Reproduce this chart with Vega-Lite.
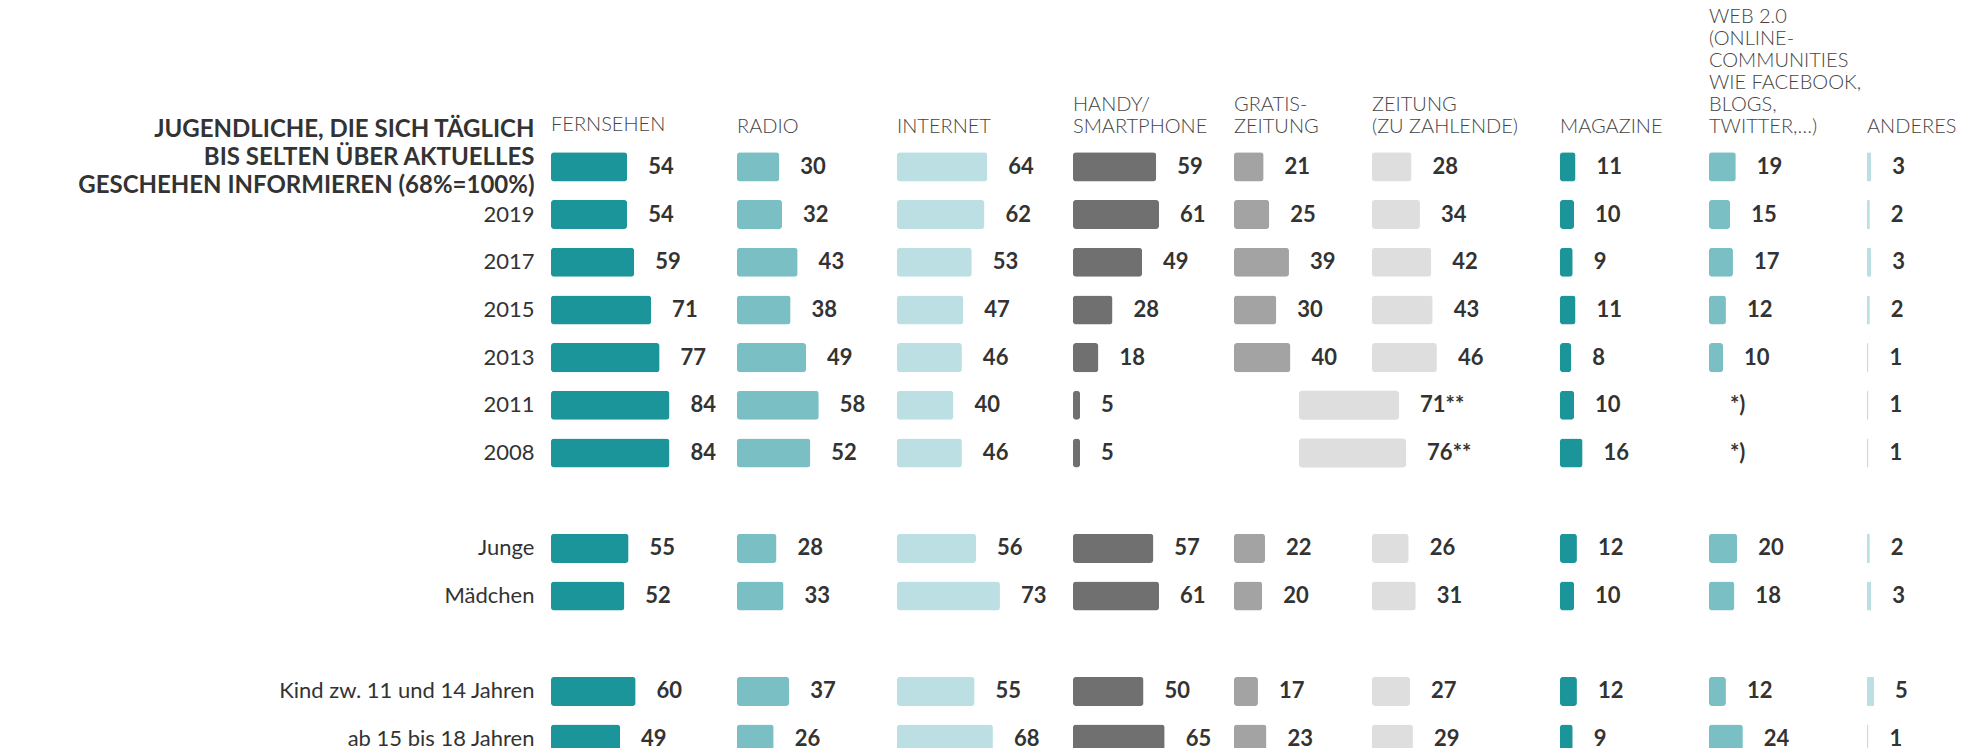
{
  "$schema": "https://vega.github.io/schema/vega-lite/v6.json",
  "autosize": {"type": "pad"},
  "padding": {"left": 77, "top": 7, "right": 0, "bottom": 0},
  "background": "white",
  "bounds": "flush",
  "spacing": 0,
  "config": {
    "view": {"stroke": null},
    "font": "Lato",
    "title": {"anchor": "start", "frame": "group", "font": "Lato", "fontWeight": 300, "fontSize": 20, "color": "#444444", "baseline": "alphabetic", "offset": 6, "lineHeight": 22}
  },
  "datasets": {
    "main": [
      {"row": "gesamt", "medium": "Fernsehen", "value": 54, "label": "54"},
      {"row": "gesamt", "medium": "Radio", "value": 30, "label": "30"},
      {"row": "gesamt", "medium": "Internet", "value": 64, "label": "64"},
      {"row": "gesamt", "medium": "Handy", "value": 59, "label": "59"},
      {"row": "gesamt", "medium": "Gratis", "value": 21, "label": "21"},
      {"row": "gesamt", "medium": "Zeitung", "value": 28, "label": "28"},
      {"row": "gesamt", "medium": "Magazine", "value": 11, "label": "11"},
      {"row": "gesamt", "medium": "Web", "value": 19, "label": "19"},
      {"row": "gesamt", "medium": "Anderes", "value": 3, "label": "3"},
      {"row": "2019", "medium": "Fernsehen", "value": 54, "label": "54"},
      {"row": "2019", "medium": "Radio", "value": 32, "label": "32"},
      {"row": "2019", "medium": "Internet", "value": 62, "label": "62"},
      {"row": "2019", "medium": "Handy", "value": 61, "label": "61"},
      {"row": "2019", "medium": "Gratis", "value": 25, "label": "25"},
      {"row": "2019", "medium": "Zeitung", "value": 34, "label": "34"},
      {"row": "2019", "medium": "Magazine", "value": 10, "label": "10"},
      {"row": "2019", "medium": "Web", "value": 15, "label": "15"},
      {"row": "2019", "medium": "Anderes", "value": 2, "label": "2"},
      {"row": "2017", "medium": "Fernsehen", "value": 59, "label": "59"},
      {"row": "2017", "medium": "Radio", "value": 43, "label": "43"},
      {"row": "2017", "medium": "Internet", "value": 53, "label": "53"},
      {"row": "2017", "medium": "Handy", "value": 49, "label": "49"},
      {"row": "2017", "medium": "Gratis", "value": 39, "label": "39"},
      {"row": "2017", "medium": "Zeitung", "value": 42, "label": "42"},
      {"row": "2017", "medium": "Magazine", "value": 9, "label": "9"},
      {"row": "2017", "medium": "Web", "value": 17, "label": "17"},
      {"row": "2017", "medium": "Anderes", "value": 3, "label": "3"},
      {"row": "2015", "medium": "Fernsehen", "value": 71, "label": "71"},
      {"row": "2015", "medium": "Radio", "value": 38, "label": "38"},
      {"row": "2015", "medium": "Internet", "value": 47, "label": "47"},
      {"row": "2015", "medium": "Handy", "value": 28, "label": "28"},
      {"row": "2015", "medium": "Gratis", "value": 30, "label": "30"},
      {"row": "2015", "medium": "Zeitung", "value": 43, "label": "43"},
      {"row": "2015", "medium": "Magazine", "value": 11, "label": "11"},
      {"row": "2015", "medium": "Web", "value": 12, "label": "12"},
      {"row": "2015", "medium": "Anderes", "value": 2, "label": "2"},
      {"row": "2013", "medium": "Fernsehen", "value": 77, "label": "77"},
      {"row": "2013", "medium": "Radio", "value": 49, "label": "49"},
      {"row": "2013", "medium": "Internet", "value": 46, "label": "46"},
      {"row": "2013", "medium": "Handy", "value": 18, "label": "18"},
      {"row": "2013", "medium": "Gratis", "value": 40, "label": "40"},
      {"row": "2013", "medium": "Zeitung", "value": 46, "label": "46"},
      {"row": "2013", "medium": "Magazine", "value": 8, "label": "8"},
      {"row": "2013", "medium": "Web", "value": 10, "label": "10"},
      {"row": "2013", "medium": "Anderes", "value": 1, "label": "1"},
      {"row": "2011", "medium": "Fernsehen", "value": 84, "label": "84"},
      {"row": "2011", "medium": "Radio", "value": 58, "label": "58"},
      {"row": "2011", "medium": "Internet", "value": 40, "label": "40"},
      {"row": "2011", "medium": "Handy", "value": 5, "label": "5"},
      {"row": "2011", "medium": "Zeitung gesamt", "value": 71, "label": "71**"},
      {"row": "2011", "medium": "Magazine", "value": 10, "label": "10"},
      {"row": "2011", "medium": "Web", "value": null, "label": "*)"},
      {"row": "2011", "medium": "Anderes", "value": 1, "label": "1"},
      {"row": "2008", "medium": "Fernsehen", "value": 84, "label": "84"},
      {"row": "2008", "medium": "Radio", "value": 52, "label": "52"},
      {"row": "2008", "medium": "Internet", "value": 46, "label": "46"},
      {"row": "2008", "medium": "Handy", "value": 5, "label": "5"},
      {"row": "2008", "medium": "Zeitung gesamt", "value": 76, "label": "76**"},
      {"row": "2008", "medium": "Magazine", "value": 16, "label": "16"},
      {"row": "2008", "medium": "Web", "value": null, "label": "*)"},
      {"row": "2008", "medium": "Anderes", "value": 1, "label": "1"},
      {"row": "Junge", "medium": "Fernsehen", "value": 55, "label": "55"},
      {"row": "Junge", "medium": "Radio", "value": 28, "label": "28"},
      {"row": "Junge", "medium": "Internet", "value": 56, "label": "56"},
      {"row": "Junge", "medium": "Handy", "value": 57, "label": "57"},
      {"row": "Junge", "medium": "Gratis", "value": 22, "label": "22"},
      {"row": "Junge", "medium": "Zeitung", "value": 26, "label": "26"},
      {"row": "Junge", "medium": "Magazine", "value": 12, "label": "12"},
      {"row": "Junge", "medium": "Web", "value": 20, "label": "20"},
      {"row": "Junge", "medium": "Anderes", "value": 2, "label": "2"},
      {"row": "Mädchen", "medium": "Fernsehen", "value": 52, "label": "52"},
      {"row": "Mädchen", "medium": "Radio", "value": 33, "label": "33"},
      {"row": "Mädchen", "medium": "Internet", "value": 73, "label": "73"},
      {"row": "Mädchen", "medium": "Handy", "value": 61, "label": "61"},
      {"row": "Mädchen", "medium": "Gratis", "value": 20, "label": "20"},
      {"row": "Mädchen", "medium": "Zeitung", "value": 31, "label": "31"},
      {"row": "Mädchen", "medium": "Magazine", "value": 10, "label": "10"},
      {"row": "Mädchen", "medium": "Web", "value": 18, "label": "18"},
      {"row": "Mädchen", "medium": "Anderes", "value": 3, "label": "3"},
      {"row": "Kind zw. 11 und 14 Jahren", "medium": "Fernsehen", "value": 60, "label": "60"},
      {"row": "Kind zw. 11 und 14 Jahren", "medium": "Radio", "value": 37, "label": "37"},
      {"row": "Kind zw. 11 und 14 Jahren", "medium": "Internet", "value": 55, "label": "55"},
      {"row": "Kind zw. 11 und 14 Jahren", "medium": "Handy", "value": 50, "label": "50"},
      {"row": "Kind zw. 11 und 14 Jahren", "medium": "Gratis", "value": 17, "label": "17"},
      {"row": "Kind zw. 11 und 14 Jahren", "medium": "Zeitung", "value": 27, "label": "27"},
      {"row": "Kind zw. 11 und 14 Jahren", "medium": "Magazine", "value": 12, "label": "12"},
      {"row": "Kind zw. 11 und 14 Jahren", "medium": "Web", "value": 12, "label": "12"},
      {"row": "Kind zw. 11 und 14 Jahren", "medium": "Anderes", "value": 5, "label": "5"},
      {"row": "ab 15 bis 18 Jahren", "medium": "Fernsehen", "value": 49, "label": "49"},
      {"row": "ab 15 bis 18 Jahren", "medium": "Radio", "value": 26, "label": "26"},
      {"row": "ab 15 bis 18 Jahren", "medium": "Internet", "value": 68, "label": "68"},
      {"row": "ab 15 bis 18 Jahren", "medium": "Handy", "value": 65, "label": "65"},
      {"row": "ab 15 bis 18 Jahren", "medium": "Gratis", "value": 23, "label": "23"},
      {"row": "ab 15 bis 18 Jahren", "medium": "Zeitung", "value": 29, "label": "29"},
      {"row": "ab 15 bis 18 Jahren", "medium": "Magazine", "value": 9, "label": "9"},
      {"row": "ab 15 bis 18 Jahren", "medium": "Web", "value": 24, "label": "24"},
      {"row": "ab 15 bis 18 Jahren", "medium": "Anderes", "value": 1, "label": "1"}
    ]
  },
  "data": {"name": "main"},
  "hconcat": [
    {
      "width": 186, "height": 608,
      "title": {"text": "FERNSEHEN", "offset": -18},
      "transform": [{"filter": "datum.medium == 'Fernsehen'"}],
      "encoding": {"y": {"field": "row", "type": "nominal",
        "scale": {"domain": ["gesamt", "2019", "2017", "2015", "2013", "2011", "2008", "gap1", "Junge", "Mädchen", "gap2", "Kind zw. 11 und 14 Jahren", "ab 15 bis 18 Jahren"], "range": [0, 620], "paddingInner": 0.39, "paddingOuter": 0.195},
        "axis": {"title": null, "domain": false, "ticks": false, "labelPadding": 17, "labelLimit": 700, "labelFont": "Lato", "labelColor": "#333333", "labelLineHeight": 28,
          "labelFontSize": {"condition": {"test": "datum.value == 'gesamt'", "value": 24}, "value": 22},
          "labelFontWeight": {"condition": {"test": "datum.value == 'gesamt'", "value": "bold"}, "value": 400},
          "labelOffset": {"condition": {"test": "datum.value == 'gesamt'", "value": -37}, "value": 0},
          "labelExpr": "datum.value == 'gesamt' ? ['JUGENDLICHE, DIE SICH TÄGLICH', 'BIS SELTEN ÜBER AKTUELLES', 'GESCHEHEN INFORMIEREN (68%=100%)'] : (indexof(datum.value, 'gap') == 0 ? '' : datum.value)"}}},
      "layer": [
        {"mark": {"type": "bar", "color": "#1b959a", "cornerRadius": 3}, "encoding": {"x": {"field": "value", "type": "quantitative", "scale": {"domain": [0, 131.9]}, "axis": null}}},
        {"mark": {"type": "text", "align": "left", "baseline": "middle", "dx": 21, "font": "Lato", "fontWeight": "bold", "fontSize": 22, "color": "#333333"}, "encoding": {"x": {"field": "value", "type": "quantitative", "scale": {"domain": [0, 131.9]}, "axis": null}, "text": {"field": "label"}}}
      ]
    },
    {
      "width": 160, "height": 608,
      "title": "RADIO",
      "transform": [{"filter": "datum.medium == 'Radio'"}],
      "encoding": {"y": {"field": "row", "type": "nominal",
        "scale": {"domain": ["gesamt", "2019", "2017", "2015", "2013", "2011", "2008", "gap1", "Junge", "Mädchen", "gap2", "Kind zw. 11 und 14 Jahren", "ab 15 bis 18 Jahren"], "range": [0, 620], "paddingInner": 0.39, "paddingOuter": 0.195}, "axis": null}},
      "layer": [
        {"mark": {"type": "bar", "color": "#79bfc4", "cornerRadius": 3}, "encoding": {"x": {"field": "value", "type": "quantitative", "scale": {"domain": [0, 113.5]}, "axis": null}}},
        {"mark": {"type": "text", "align": "left", "baseline": "middle", "dx": 21, "font": "Lato", "fontWeight": "bold", "fontSize": 22, "color": "#333333"}, "encoding": {"x": {"field": "value", "type": "quantitative", "scale": {"domain": [0, 113.5]}, "axis": null}, "text": {"field": "label"}}}
      ]
    },
    {
      "width": 176, "height": 608,
      "title": "INTERNET",
      "transform": [{"filter": "datum.medium == 'Internet'"}],
      "encoding": {"y": {"field": "row", "type": "nominal",
        "scale": {"domain": ["gesamt", "2019", "2017", "2015", "2013", "2011", "2008", "gap1", "Junge", "Mädchen", "gap2", "Kind zw. 11 und 14 Jahren", "ab 15 bis 18 Jahren"], "range": [0, 620], "paddingInner": 0.39, "paddingOuter": 0.195}, "axis": null}},
      "layer": [
        {"mark": {"type": "bar", "color": "#bbdfe2", "cornerRadius": 3}, "encoding": {"x": {"field": "value", "type": "quantitative", "scale": {"domain": [0, 124.8]}, "axis": null}}},
        {"mark": {"type": "text", "align": "left", "baseline": "middle", "dx": 21, "font": "Lato", "fontWeight": "bold", "fontSize": 22, "color": "#333333"}, "encoding": {"x": {"field": "value", "type": "quantitative", "scale": {"domain": [0, 124.8]}, "axis": null}, "text": {"field": "label"}}}
      ]
    },
    {
      "width": 161, "height": 608,
      "title": {"text": ["HANDY/", "SMARTPHONE"]},
      "transform": [{"filter": "datum.medium == 'Handy'"}],
      "encoding": {"y": {"field": "row", "type": "nominal",
        "scale": {"domain": ["gesamt", "2019", "2017", "2015", "2013", "2011", "2008", "gap1", "Junge", "Mädchen", "gap2", "Kind zw. 11 und 14 Jahren", "ab 15 bis 18 Jahren"], "range": [0, 620], "paddingInner": 0.39, "paddingOuter": 0.195}, "axis": null}},
      "layer": [
        {"mark": {"type": "bar", "color": "#707070", "cornerRadius": 3}, "encoding": {"x": {"field": "value", "type": "quantitative", "scale": {"domain": [0, 114.2]}, "axis": null}}},
        {"mark": {"type": "text", "align": "left", "baseline": "middle", "dx": 21, "font": "Lato", "fontWeight": "bold", "fontSize": 22, "color": "#333333"}, "encoding": {"x": {"field": "value", "type": "quantitative", "scale": {"domain": [0, 114.2]}, "axis": null}, "text": {"field": "label"}}}
      ]
    },
    {
      "width": 138, "height": 608,
      "title": {"text": ["GRATIS-", "ZEITUNG"]},
      "transform": [{"filter": "datum.medium == 'Gratis' || datum.medium == 'Zeitung gesamt'"}],
      "encoding": {"y": {"field": "row", "type": "nominal",
        "scale": {"domain": ["gesamt", "2019", "2017", "2015", "2013", "2011", "2008", "gap1", "Junge", "Mädchen", "gap2", "Kind zw. 11 und 14 Jahren", "ab 15 bis 18 Jahren"], "range": [0, 620], "paddingInner": 0.39, "paddingOuter": 0.195}, "axis": null}},
      "layer": [
        {"transform": [{"filter": "datum.medium == 'Gratis'"}], "mark": {"type": "bar", "color": "#a3a3a3", "cornerRadius": 3}, "encoding": {"x": {"field": "value", "type": "quantitative", "scale": {"domain": [0, 97.9]}, "axis": null}}},
        {"transform": [{"filter": "datum.medium == 'Gratis'"}], "mark": {"type": "text", "align": "left", "baseline": "middle", "dx": 21, "font": "Lato", "fontWeight": "bold", "fontSize": 22, "color": "#333333"}, "encoding": {"x": {"field": "value", "type": "quantitative", "scale": {"domain": [0, 97.9]}, "axis": null}, "text": {"field": "label"}}},
        {"transform": [{"filter": "datum.medium == 'Zeitung gesamt'"}], "mark": {"type": "bar", "color": "#dedede", "cornerRadius": 3}, "encoding": {"x": {"field": "value", "type": "quantitative", "scale": {"domain": [-46.1, 51.8], "zero": false}, "axis": null}, "x2": {"datum": 0}}},
        {"transform": [{"filter": "datum.medium == 'Zeitung gesamt'"}], "mark": {"type": "text", "align": "left", "baseline": "middle", "dx": 21, "font": "Lato", "fontWeight": "bold", "fontSize": 22, "color": "#333333"}, "encoding": {"x": {"field": "value", "type": "quantitative", "scale": {"domain": [-46.1, 51.8], "zero": false}, "axis": null}, "text": {"field": "label"}}}
      ],
      "resolve": {"scale": {"x": "independent"}}
    },
    {
      "width": 188, "height": 608,
      "title": {"text": ["ZEITUNG", "(ZU ZAHLENDE)"]},
      "transform": [{"filter": "datum.medium == 'Zeitung'"}],
      "encoding": {"y": {"field": "row", "type": "nominal",
        "scale": {"domain": ["gesamt", "2019", "2017", "2015", "2013", "2011", "2008", "gap1", "Junge", "Mädchen", "gap2", "Kind zw. 11 und 14 Jahren", "ab 15 bis 18 Jahren"], "range": [0, 620], "paddingInner": 0.39, "paddingOuter": 0.195}, "axis": null}},
      "layer": [
        {"mark": {"type": "bar", "color": "#dedede", "cornerRadius": 3}, "encoding": {"x": {"field": "value", "type": "quantitative", "scale": {"domain": [0, 133.3]}, "axis": null}}},
        {"mark": {"type": "text", "align": "left", "baseline": "middle", "dx": 21, "font": "Lato", "fontWeight": "bold", "fontSize": 22, "color": "#333333"}, "encoding": {"x": {"field": "value", "type": "quantitative", "scale": {"domain": [0, 133.3]}, "axis": null}, "text": {"field": "label"}}}
      ]
    },
    {
      "width": 149, "height": 608,
      "title": "MAGAZINE",
      "transform": [{"filter": "datum.medium == 'Magazine'"}],
      "encoding": {"y": {"field": "row", "type": "nominal",
        "scale": {"domain": ["gesamt", "2019", "2017", "2015", "2013", "2011", "2008", "gap1", "Junge", "Mädchen", "gap2", "Kind zw. 11 und 14 Jahren", "ab 15 bis 18 Jahren"], "range": [0, 620], "paddingInner": 0.39, "paddingOuter": 0.195}, "axis": null}},
      "layer": [
        {"mark": {"type": "bar", "color": "#1b959a", "cornerRadius": 3}, "encoding": {"x": {"field": "value", "type": "quantitative", "scale": {"domain": [0, 105.7]}, "axis": null}}},
        {"mark": {"type": "text", "align": "left", "baseline": "middle", "dx": 21, "font": "Lato", "fontWeight": "bold", "fontSize": 22, "color": "#333333"}, "encoding": {"x": {"field": "value", "type": "quantitative", "scale": {"domain": [0, 105.7]}, "axis": null}, "text": {"field": "label"}}}
      ]
    },
    {
      "width": 158, "height": 608,
      "title": {"text": ["WEB 2.0", "(ONLINE-", "COMMUNITIES", "WIE FACEBOOK,", "BLOGS,", "TWITTER,…)"]},
      "transform": [{"filter": "datum.medium == 'Web'"}],
      "encoding": {"y": {"field": "row", "type": "nominal",
        "scale": {"domain": ["gesamt", "2019", "2017", "2015", "2013", "2011", "2008", "gap1", "Junge", "Mädchen", "gap2", "Kind zw. 11 und 14 Jahren", "ab 15 bis 18 Jahren"], "range": [0, 620], "paddingInner": 0.39, "paddingOuter": 0.195}, "axis": null}},
      "layer": [
        {"transform": [{"filter": "datum.value != null"}], "mark": {"type": "bar", "color": "#79bfc4", "cornerRadius": 3}, "encoding": {"x": {"field": "value", "type": "quantitative", "scale": {"domain": [0, 112.1]}, "axis": null}}},
        {"transform": [{"filter": "datum.value != null"}], "mark": {"type": "text", "align": "left", "baseline": "middle", "dx": 21, "font": "Lato", "fontWeight": "bold", "fontSize": 22, "color": "#333333"}, "encoding": {"x": {"field": "value", "type": "quantitative", "scale": {"domain": [0, 112.1]}, "axis": null}, "text": {"field": "label"}}},
        {"transform": [{"filter": "datum.value == null"}], "mark": {"type": "text", "align": "left", "baseline": "middle", "dx": 21, "font": "Lato", "fontWeight": "bold", "fontSize": 22, "color": "#333333"}, "encoding": {"x": {"datum": 0, "type": "quantitative", "scale": {"domain": [0, 112.1]}, "axis": null}, "text": {"field": "label"}}}
      ]
    },
    {
      "width": 80, "height": 608,
      "title": "ANDERES",
      "transform": [{"filter": "datum.medium == 'Anderes'"}],
      "encoding": {"y": {"field": "row", "type": "nominal",
        "scale": {"domain": ["gesamt", "2019", "2017", "2015", "2013", "2011", "2008", "gap1", "Junge", "Mädchen", "gap2", "Kind zw. 11 und 14 Jahren", "ab 15 bis 18 Jahren"], "range": [0, 620], "paddingInner": 0.39, "paddingOuter": 0.195}, "axis": null}},
      "layer": [
        {"mark": {"type": "bar", "color": "#bbdfe2", "cornerRadius": 1}, "encoding": {"x": {"field": "value", "type": "quantitative", "scale": {"domain": [0, 56.7]}, "axis": null}}},
        {"mark": {"type": "text", "align": "left", "baseline": "middle", "dx": 21, "font": "Lato", "fontWeight": "bold", "fontSize": 22, "color": "#333333"}, "encoding": {"x": {"field": "value", "type": "quantitative", "scale": {"domain": [0, 56.7]}, "axis": null}, "text": {"field": "label"}}}
      ]
    }
  ]
}
